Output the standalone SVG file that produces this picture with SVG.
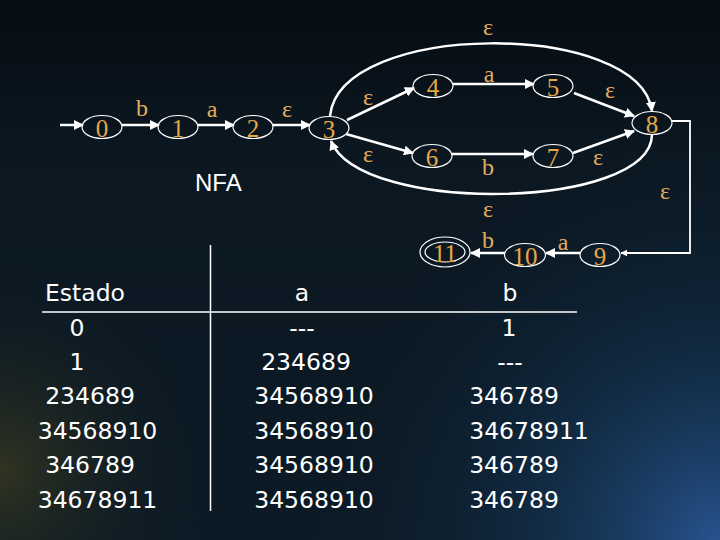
<svg xmlns="http://www.w3.org/2000/svg" width="720" height="540" viewBox="0 0 720 540">
<defs>
<radialGradient id="bgBlue" cx="720" cy="540" r="420" gradientUnits="userSpaceOnUse">
<stop offset="0" stop-color="#2a5a9a" stop-opacity="0.9"/>
<stop offset="0.45" stop-color="#163a5e" stop-opacity="0.5"/>
<stop offset="1" stop-color="#0b1924" stop-opacity="0"/>
</radialGradient>
<radialGradient id="bgGold" cx="0" cy="470" r="220" gradientUnits="userSpaceOnUse">
<stop offset="0" stop-color="#3a3a20" stop-opacity="0.8"/>
<stop offset="1" stop-color="#0b1924" stop-opacity="0"/>
</radialGradient>
<linearGradient id="bgTop" x1="0" y1="0" x2="0" y2="1">
<stop offset="0" stop-color="#060c12"/>
<stop offset="0.3" stop-color="#0b1822"/>
<stop offset="1" stop-color="#0c1a25"/>
</linearGradient>
<marker id="arr" viewBox="0 0 10 10" refX="9" refY="5" markerWidth="4" markerHeight="4" markerUnits="strokeWidth" orient="auto">
<path d="M0,0 L10,5 L0,10 z" fill="#ffffff"/>
</marker>
<style>
.st ellipse{fill:none;stroke:#ffffff;stroke-width:1.2}
.st text{font-family:"Liberation Serif","Times New Roman",serif;font-size:25px;fill:#e6a846;text-anchor:middle}
.edge{fill:none;stroke:#ffffff;stroke-width:2.5;marker-end:url(#arr)}
.lbl{font-family:"Liberation Serif","Times New Roman",serif;font-size:24px;fill:#e3ad5c;text-anchor:middle}
.tb{font-family:"DejaVu Sans",Verdana,sans-serif;font-size:23.5px;fill:#ffffff;text-anchor:middle}
</style>
</defs>
<rect width="720" height="540" fill="url(#bgTop)"/>
<rect width="720" height="540" fill="url(#bgBlue)"/>
<rect width="720" height="540" fill="url(#bgGold)"/>

<g id="connectors">
<line class="edge" x1="60" y1="125" x2="83" y2="125"/>
<line class="edge" x1="122" y1="125" x2="159" y2="125"/>
<line class="edge" x1="198" y1="125" x2="234" y2="125"/>
<line class="edge" x1="273" y1="125" x2="310" y2="125"/>
<line class="edge" x1="347" y1="120" x2="414" y2="88"/>
<line class="edge" x1="346" y1="134" x2="413" y2="153"/>
<line class="edge" x1="453" y1="84" x2="534" y2="84"/>
<line class="edge" x1="452" y1="154" x2="533" y2="154"/>
<line class="edge" x1="574" y1="93" x2="634" y2="116"/>
<line class="edge" x1="573" y1="153" x2="634" y2="131"/>
<path class="edge" d="M330,116 C340,20 640,20 652,111"/>
<path class="edge" d="M652,135 C650,210 360,215 331,141"/>
<path class="edge" style="stroke-width:1.8" d="M672,121 L690,121 L690,253 L621,253"/>
<line class="edge" x1="580" y1="253" x2="546" y2="253"/>
<line class="edge" x1="505" y1="253" x2="471" y2="253"/>
</g>

<g id="edge-labels">
<text class="lbl" x="142" y="116">b</text>
<text class="lbl" x="212" y="117">a</text>
<text class="lbl" x="287" y="117">ε</text>
<text class="lbl" x="368" y="105">ε</text>
<text class="lbl" x="488" y="35">ε</text>
<text class="lbl" x="489" y="82">a</text>
<text class="lbl" x="610" y="98">ε</text>
<text class="lbl" x="368" y="162">ε</text>
<text class="lbl" x="488" y="175">b</text>
<text class="lbl" x="598" y="165">ε</text>
<text class="lbl" x="488" y="217">ε</text>
<text class="lbl" x="665" y="199">ε</text>
<text class="lbl" x="563" y="250">a</text>
<text class="lbl" x="488" y="248">b</text>
</g>

<g id="n0" class="st"><ellipse cx="102" cy="127" rx="20" ry="11.5"/><text x="102" y="137">0</text></g>
<g id="n1" class="st"><ellipse cx="178" cy="127" rx="20" ry="11.5"/><text x="178" y="137">1</text></g>
<g id="n2" class="st"><ellipse cx="253" cy="127" rx="20" ry="11.5"/><text x="253" y="137">2</text></g>
<g id="n3" class="st"><ellipse cx="329" cy="128" rx="20" ry="11.5"/><text x="329" y="138">3</text></g>
<g id="n4" class="st"><ellipse cx="433" cy="86" rx="20" ry="11.5"/><text x="433" y="96">4</text></g>
<g id="n5" class="st"><ellipse cx="553" cy="86" rx="20" ry="11.5"/><text x="553" y="96">5</text></g>
<g id="n6" class="st"><ellipse cx="432" cy="156" rx="20" ry="11.5"/><text x="432" y="166">6</text></g>
<g id="n7" class="st"><ellipse cx="553" cy="156" rx="20" ry="11.5"/><text x="553" y="166">7</text></g>
<g id="n8" class="st"><ellipse cx="652" cy="123" rx="20" ry="11.5"/><text x="652" y="133">8</text></g>
<g id="n9" class="st"><ellipse cx="600" cy="255" rx="20" ry="11.5"/><text x="600" y="265">9</text></g>
<g id="n10" class="st"><ellipse cx="525" cy="255" rx="20.5" ry="11.5"/><text x="525" y="265">10</text></g>
<g id="n11" class="st"><ellipse cx="445" cy="252" rx="25" ry="15"/><ellipse cx="445" cy="252" rx="20" ry="10"/><text x="445" y="262">11</text></g>

<text x="195" y="191" style="font-family:'Liberation Sans',Arial,sans-serif;font-size:24px;fill:#ffffff">NFA</text>

<g id="table">
<line x1="42" y1="312" x2="577" y2="312" stroke="#ffffff" stroke-width="1.5"/>
<line x1="210.5" y1="245" x2="210.5" y2="511" stroke="#ffffff" stroke-width="1.5"/>
<text class="tb" x="85" y="301">Estado</text>
<text class="tb" x="77" y="335.5">0</text>
<text class="tb" x="77" y="370">1</text>
<text class="tb" x="90" y="404">234689</text>
<text class="tb" x="97.5" y="438.5">34568910</text>
<text class="tb" x="90" y="473">346789</text>
<text class="tb" x="97.5" y="507.5">34678911</text>
<text class="tb" x="302" y="301">a</text>
<text class="tb" x="302" y="335.5">---</text>
<text class="tb" x="306" y="370">234689</text>
<text class="tb" x="314" y="404">34568910</text>
<text class="tb" x="314" y="438.5">34568910</text>
<text class="tb" x="314" y="473">34568910</text>
<text class="tb" x="314" y="507.5">34568910</text>
<text class="tb" x="510" y="301">b</text>
<text class="tb" x="509" y="335.5">1</text>
<text class="tb" x="510" y="370">---</text>
<text class="tb" x="514" y="404">346789</text>
<text class="tb" x="529" y="438.5">34678911</text>
<text class="tb" x="514" y="473">346789</text>
<text class="tb" x="514" y="507.5">346789</text>
</g>
</svg>
